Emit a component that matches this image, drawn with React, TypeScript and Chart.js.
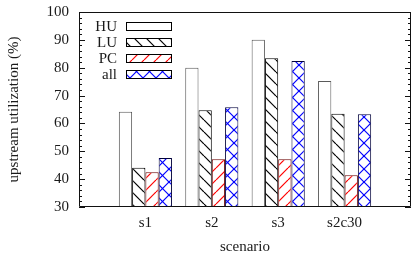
import React, { useEffect, useRef } from "react";
import { Chart, registerables } from "chart.js";

Chart.register(...registerables);

const categories = ["s1", "s2", "s3", "s2c30"];
const seriesNames = ["HU", "LU", "PC", "all"];
const huValues = [64.2, 80.0, 90.0, 75.2];
const luValues = [44.1, 64.7, 83.4, 63.5];
const pcValues = [42.5, 47.1, 47.1, 41.4];
const allValues = [47.6, 65.8, 82.4, 63.3];
const yMin = 30;
const yMax = 100;
const yStep = 10;
const yMinorStep = 2;

const FONT = "'Liberation Serif', 'DejaVu Serif', serif";
const TEXT = "#1a1a1a";

function makePattern(kind: string, color: string, size: number): CanvasPattern | string {
  const c = document.createElement("canvas");
  c.width = size;
  c.height = size;
  const ctx = c.getContext("2d");
  if (!ctx) return "#fff";
  ctx.fillStyle = "#ffffff";
  ctx.fillRect(0, 0, size, size);
  ctx.strokeStyle = color;
  ctx.lineWidth = 1.2;
  if (kind === "back" || kind === "cross") {
    for (const k of [-size, 0, size]) {
      ctx.beginPath();
      ctx.moveTo(k, 0);
      ctx.lineTo(k + size, size);
      ctx.stroke();
    }
  }
  if (kind === "fwd" || kind === "cross") {
    for (const k of [-size, 0, size]) {
      ctx.beginPath();
      ctx.moveTo(k + size, 0);
      ctx.lineTo(k, size);
      ctx.stroke();
    }
  }
  const p = ctx.createPattern(c, "repeat");
  return p || "#fff";
}

export default function App() {
  const ref = useRef<HTMLCanvasElement | null>(null);

  useEffect(() => {
    const canvas = ref.current;
    if (!canvas) return;
    const fills = [
      "#ffffff",
      makePattern("back", "#000000", 12),
      makePattern("fwd", "#ff0000", 12),
      makePattern("cross", "#0000ff", 13),
    ];
    const borders = ["#5a5a5a", "#000000", "#6a0000", "#00003a"];
    const legendBorders = ["#000000", "#000000", "#000000", "#000000"];
    const values = [huValues, luValues, pcValues, allValues];
    const labels = ["", ...categories, ""];

    const framePlugin = {
      id: "frame",
      afterDatasetsDraw(chart: any) {
        const { ctx, chartArea } = chart;
        const y = chart.scales.y;
        const { left, right, top, bottom } = chartArea;
        ctx.save();
        ctx.strokeStyle = "#111";
        ctx.lineWidth = 1;
        ctx.beginPath();
        ctx.rect(left + 0.5, top + 0.5, right - left - 1, bottom - top - 1);
        ctx.stroke();
        for (let v = yMin; v <= yMax; v += yMinorStep) {
          const major = v % yStep === 0;
          const len = major ? 6 : 3;
          const py = Math.round(y.getPixelForValue(v)) + 0.5;
          ctx.beginPath();
          ctx.moveTo(left, py);
          ctx.lineTo(left + len, py);
          ctx.moveTo(right, py);
          ctx.lineTo(right - len, py);
          ctx.stroke();
        }
        // legend
        ctx.font = `15px ${FONT}`;
        ctx.textAlign = "right";
        ctx.textBaseline = "alphabetic";
        const lx = 117;
        const bx = 126;
        const bw = 45;
        const bh = 8;
        const y0 = 26;
        const dy = 16;
        seriesNames.forEach((name, i) => {
          const cy = y0 + i * dy;
          ctx.fillStyle = TEXT;
          ctx.fillText(name, lx, cy + 5);
          ctx.fillStyle = fills[i] as any;
          ctx.fillRect(bx, cy - bh / 2, bw, bh);
          ctx.strokeStyle = legendBorders[i];
          ctx.strokeRect(bx + 0.5, Math.round(cy - bh / 2) + 0.5, bw, bh);
        });
        ctx.restore();
      },
    };

    const chart = new Chart(canvas, {
      type: "bar",
      data: {
        labels,
        datasets: seriesNames.map((name, i) => ({
          label: name,
          data: [null, ...values[i], null],
          backgroundColor: fills[i] as any,
          borderColor: borders[i],
          borderWidth: 1,
          borderSkipped: false,
          categoryPercentage: 0.8,
          barPercentage: 1.0,
        })),
      },
      options: {
        responsive: false,
        animation: false,
        devicePixelRatio: 1,
        layout: { padding: { top: 12, right: 1, left: 0, bottom: 0 } },
        plugins: {
          legend: { display: false },
          tooltip: { enabled: false },
        },
        scales: {
          x: {
            type: "category",
            offset: false,
            grid: { display: false, drawTicks: false },
            border: { display: false },
            ticks: {
              padding: 7,
              color: TEXT,
              font: { family: FONT, size: 15 },
              maxRotation: 0,
              autoSkip: false,
            },
            title: {
              display: true,
              text: "scenario",
              color: TEXT,
              font: { family: FONT, size: 15 },
              padding: { top: 0, bottom: 1 },
            },
            afterFit(scale: any) {
              scale.height = 50;
              scale.paddingLeft = 0;
              scale.paddingRight = 0;
              scale.paddingTop = 0;
              scale.paddingBottom = 0;
            },
          },
          y: {
            min: yMin,
            max: yMax,
            grid: { display: false, drawTicks: false },
            border: { display: false },
            ticks: {
              stepSize: yStep,
              padding: 10,
              color: TEXT,
              font: { family: FONT, size: 15 },
            },
            title: {
              display: true,
              text: "upstream utilization (%)",
              color: TEXT,
              font: { family: FONT, size: 15 },
              padding: { top: 5, bottom: 0 },
            },
            afterFit(scale: any) {
              scale.width = 79;
              scale.paddingLeft = 0;
              scale.paddingRight = 0;
              scale.paddingTop = 0;
              scale.paddingBottom = 0;
            },
          },
        },
      },
      plugins: [framePlugin],
    });
    return () => chart.destroy();
  }, []);

  return (
    <div style={{ position: "fixed", left: 0, top: 0, width: 412, height: 257, background: "#fff" }}>
      <canvas ref={ref} width={412} height={257} style={{ display: "block", width: 412, height: 257 }} />
    </div>
  );
}
